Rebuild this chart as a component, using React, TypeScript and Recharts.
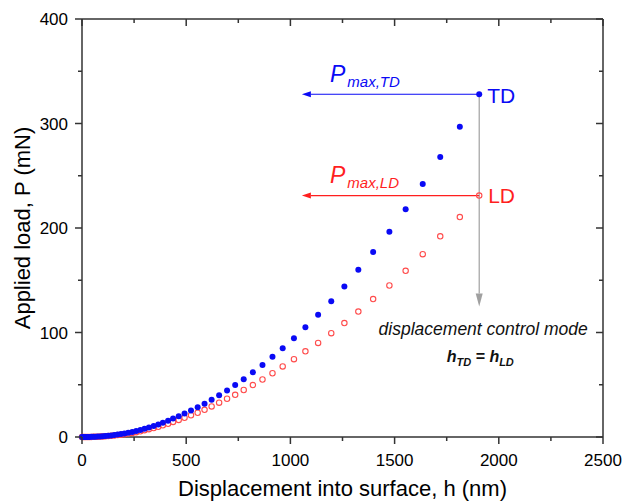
import {
  ScatterChart, Scatter, XAxis, YAxis, ReferenceLine, ReferenceDot, Label,
} from 'recharts'

const BLUE = '#0a0af5'
const RED = '#ff1f1f'
const RED_OPEN = '#ff4c4c'
const GRAY = '#a0a0a0'
const AXIS = '#333'
const FONT = 'Liberation Sans, Arial, sans-serif'

// displacement (nm), shared by both series
const H = [0, 6, 12, 19, 27, 35, 44, 54, 64, 75, 87, 99, 112, 126, 140, 155, 171, 187, 204, 222,
  241, 260, 280, 300, 321, 344, 366, 388, 413, 437, 464, 492, 523, 555, 588, 622, 658, 696, 735, 776,
  820, 866, 914, 963, 1017, 1072, 1133, 1196, 1259, 1326, 1397, 1475, 1553, 1635, 1719, 1813, 1906]

// applied load (mN)
const TD = [0, 0, 0.01, 0.02, 0.05, 0.09, 0.15, 0.22, 0.31, 0.43, 0.58, 0.75, 0.95, 1.2, 1.5, 1.85, 2.3, 2.8, 3.4, 4.1,
  4.9, 5.8, 6.8, 8.0, 9.2, 10.5, 12.0, 13.7, 15.6, 17.6, 19.9, 22.5, 25.4, 28.4, 31.9, 35.7, 39.9, 44.6, 49.7, 55.3,
  61.9, 69, 76.8, 85, 94.6, 105, 117, 130, 144, 160, 177, 196.5, 218, 242, 268, 297, 328]

const LD = [0, 0, 0, 0.01, 0.03, 0.06, 0.1, 0.15, 0.22, 0.31, 0.42, 0.55, 0.71, 0.9, 1.15, 1.45, 1.8, 2.2, 2.7, 3.3,
  3.9, 4.6, 5.5, 6.5, 7.5, 8.6, 9.8, 11.2, 12.7, 14.4, 16.3, 18.4, 20.8, 23.2, 26, 29.3, 32.8, 36.6, 40.4, 45,
  49.7, 55, 61, 67.5, 74.5, 82, 90, 99.4, 109, 120, 132, 145, 159, 175, 192, 210.5, 231]

const X_TICKS = [0, 250, 500, 750, 1000, 1250, 1500, 1750, 2000, 2250, 2500]
const Y_TICKS = [0, 50, 100, 150, 200, 250, 300, 350, 400]

const tdData = H.map((h, i) => ({ h, p: TD[i] }))
const ldData = H.map((h, i) => ({ h, p: LD[i] }))

const TOP = 19
const RIGHT = 603

function XTick({ x, y, payload }: any) {
  const major = payload.value % 500 === 0
  const len = major ? 7 : 4
  return (
    <g stroke={AXIS} strokeWidth={1.5}>
      <line x1={x} y1={y} x2={x} y2={y + len} />
      <line x1={x} y1={TOP} x2={x} y2={TOP + len} />
      {major && (
        <text x={x} y={y + 29} textAnchor="middle" fontSize={17} fontFamily={FONT} fill="#000" stroke="none">
          {payload.value}
        </text>
      )}
    </g>
  )
}

function YTick({ x, y, payload }: any) {
  const major = payload.value % 100 === 0
  const len = major ? 7 : 4
  return (
    <g stroke={AXIS} strokeWidth={1.5}>
      <line x1={x - len} y1={y} x2={x} y2={y} />
      <line x1={RIGHT - len} y1={y} x2={RIGHT} y2={y} />
      {major && (
        <text x={x - 14} y={y} dy="0.36em" textAnchor="end" fontSize={17} fontFamily={FONT} fill="#000" stroke="none">
          {payload.value}
        </text>
      )}
    </g>
  )
}

const arrow = (color: string, headLen: number, headHalf: number) => (props: any) => {
  const { x1, y1, x2, y2 } = props
  const a = Math.atan2(y2 - y1, x2 - x1)
  const bx = x2 - headLen * Math.cos(a)
  const by = y2 - headLen * Math.sin(a)
  const px = -Math.sin(a) * headHalf
  const py = Math.cos(a) * headHalf
  return (
    <g>
      <line x1={x1} y1={y1} x2={bx} y2={by} stroke={color} strokeWidth={1.2} />
      <polygon points={`${x2},${y2} ${bx + px},${by + py} ${bx - px},${by - py}`} fill={color} />
    </g>
  )
}

const textAt = (content: any) => (props: any) => <g transform={`translate(${props.cx},${props.cy})`}>{content}</g>

const filledDot = (props: any) => <circle cx={props.cx} cy={props.cy} r={3} fill={BLUE} />
const openDot = (props: any) => <circle cx={props.cx} cy={props.cy} r={2.7} fill="none" stroke={RED_OPEN} strokeWidth={1.1} />

export default function App() {
  return (
    <div style={{ position: 'absolute', left: 0, top: 0 }}>
      <ScatterChart width={622} height={502} margin={{ top: TOP, right: 19, left: 0, bottom: 0 }}>
        <XAxis
          type="number" dataKey="h" domain={[0, 2500]} ticks={X_TICKS} interval={0}
          tickSize={0} tickMargin={0} tick={<XTick />} height={65}
          axisLine={{ stroke: AXIS, strokeWidth: 1.5 }} tickLine={false}
        >
          <Label
            content={({ viewBox }: any) => (
              <text x={viewBox.x + viewBox.width / 2} y={viewBox.y + 59} textAnchor="middle" fontSize={22} fontFamily={FONT} fill="#000">
                Displacement into surface, h (nm)
              </text>
            )}
          />
        </XAxis>
        <YAxis
          type="number" dataKey="p" domain={[0, 400]} ticks={Y_TICKS} interval={0}
          tickSize={0} tickMargin={0} tick={<YTick />} width={82}
          axisLine={{ stroke: AXIS, strokeWidth: 1.5 }} tickLine={false}
        >
          <Label
            content={({ viewBox }: any) => {
              const cx = viewBox.x + 30
              const cy = viewBox.y + viewBox.height / 2
              return (
                <text x={cx} y={cy} transform={`rotate(-90 ${cx} ${cy})`} textAnchor="middle" fontSize={22} fontFamily={FONT} fill="#000">
                  Applied load, P (mN)
                </text>
              )
            }}
          />
        </YAxis>
        <ReferenceLine y={400} stroke={AXIS} strokeWidth={1.5} />
        <ReferenceLine x={2500} stroke={AXIS} strokeWidth={1.5} />

        <ReferenceLine segment={[{ x: 1906, y: 328 }, { x: 1906, y: 125 }]} shape={arrow(GRAY, 13, 3.5)} />
        <ReferenceLine segment={[{ x: 1906, y: 328 }, { x: 1055, y: 328 }]} shape={arrow(BLUE, 9, 3)} />
        <ReferenceLine segment={[{ x: 1906, y: 231 }, { x: 1055, y: 231 }]} shape={arrow(RED, 9, 3)} />

        <Scatter data={ldData} shape={openDot} isAnimationActive={false} />
        <Scatter data={tdData} shape={filledDot} isAnimationActive={false} />

        <ReferenceDot x={1190} y={340} r={0} shape={textAt(
          <text fontFamily={FONT} fontStyle="italic" fill={BLUE} fontSize={23}>
            P<tspan fontSize={15} dx={2} dy={5}>max,TD</tspan>
          </text>
        )} />
        <ReferenceDot x={1944} y={320} r={0} shape={textAt(
          <text fontFamily={FONT} fill={BLUE} fontSize={21}>TD</text>
        )} />
        <ReferenceDot x={1190} y={243} r={0} shape={textAt(
          <text fontFamily={FONT} fontStyle="italic" fill={RED} fontSize={23}>
            P<tspan fontSize={15} dx={2} dy={5}>max,LD</tspan>
          </text>
        )} />
        <ReferenceDot x={1949} y={224} r={0} shape={textAt(
          <text fontFamily={FONT} fill={RED} fontSize={21}>LD</text>
        )} />
        <ReferenceDot x={1925} y={98} r={0} shape={textAt(
          <text fontFamily={FONT} fontStyle="italic" fill="#111" fontSize={17.5} textAnchor="middle">
            displacement control mode
          </text>
        )} />
        <ReferenceDot x={1911} y={72} r={0} shape={textAt(
          <text fontFamily={FONT} fontStyle="italic" fontWeight="bold" fill="#111" fontSize={16} textAnchor="middle">
            h<tspan fontSize={11} dy={4}>TD</tspan><tspan dy={-4}> = h</tspan><tspan fontSize={11} dy={4}>LD</tspan>
          </text>
        )} />
      </ScatterChart>
    </div>
  )
}
